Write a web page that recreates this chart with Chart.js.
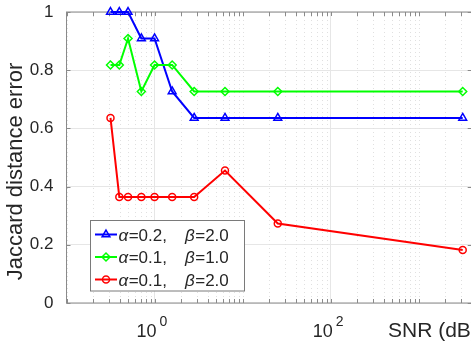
<!DOCTYPE html>
<html lang="en">
<head>
<meta charset="UTF-8">
<title>Jaccard distance error vs SNR</title>
<script src="https://cdn.jsdelivr.net/npm/chart.js"></script>
<style>
  html, body { margin: 0; padding: 0; background: #fff; overflow: hidden; }
  #wrap { width: 480px; height: 341px; }
</style>
</head>
<body>
<div id="wrap"><canvas id="chart" width="480" height="341"></canvas></div>
<script>
// SNR values (x, log axis)
const snr = [0.316, 0.398, 0.5, 0.708, 1, 1.585, 2.818, 6.31, 25.1, 3162];

// Jaccard distance error for each parameter pair
const errA02B20 = [1, 1, 1, 0.909, 0.909, 0.727, 0.636, 0.636, 0.636, 0.636];
const errA01B10 = [0.818, 0.818, 0.909, 0.727, 0.818, 0.818, 0.727, 0.727, 0.727, 0.727];
const errA01B20 = [0.636, 0.364, 0.364, 0.364, 0.364, 0.364, 0.364, 0.455, 0.273, 0.182];

const alphas = ["0.2", "0.1", "0.1"];
const betas = ["2.0", "1.0", "2.0"];

const yTicks = [0, 0.2, 0.4, 0.6, 0.8, 1];
const xMajorTicks = [1, 100];      // labelled decades: 10^0, 10^2
const xMin = 0.1, xMax = 4000;

const FONT = '"Liberation Sans", Arial, Helvetica, sans-serif';
const TXT = "#262626";

function pts(ys) {
    return snr.map((x, i) => ({ x: x, y: ys[i] }));
}

function series(ys, i, color, style, radius) {
    return {
        label: `α=${alphas[i]},   β=${betas[i]}`,
        data: pts(ys),
        borderColor: color,
        borderWidth: 2,
        pointStyle: style,
        pointRadius: radius,
        pointBorderWidth: 1.5,
        pointBackgroundColor: "rgba(0,0,0,0)",
        pointBorderColor: color,
        fill: false,
        tension: 0,
        clip: false,
        order: 3 - i
    };
}

// MATLAB-like box, minor grid, inward ticks, legend and labels
const matlabLook = {
    id: "matlabLook",
    beforeDatasetsDraw(chart) {
        const { ctx, chartArea: a, scales: { x, y } } = chart;
        ctx.save();
        // minor grid (dotted) on every 1..9 x 10^n
        ctx.strokeStyle = "#e0e0e0";
        ctx.lineWidth = 1;
        ctx.setLineDash([1, 3]);
        const minor = [];
        for (let n = -1; n <= 3; n++) {
            for (let k = 1; k <= 9; k++) {
                const v = k * Math.pow(10, n);
                if (v >= xMin && v <= xMax) minor.push(v);
            }
        }
        minor.forEach(v => {
            if (xMajorTicks.includes(v)) return;
            const px = Math.round(x.getPixelForValue(v)) + 0.5;
            ctx.beginPath();
            ctx.moveTo(px, a.top);
            ctx.lineTo(px, a.bottom);
            ctx.stroke();
        });
        ctx.setLineDash([]);

        // box
        ctx.strokeStyle = "#8a8a8a";
        ctx.lineWidth = 1;
        ctx.strokeRect(a.left, a.top, a.right - a.left, a.bottom - a.top);

        // inward ticks
        const tl = 4;
        ctx.beginPath();
        minor.forEach(v => {
            const px = Math.round(x.getPixelForValue(v)) + 0.5;
            ctx.moveTo(px, a.bottom); ctx.lineTo(px, a.bottom - tl);
            ctx.moveTo(px, a.top); ctx.lineTo(px, a.top + tl);
        });
        yTicks.forEach(v => {
            const py = Math.round(y.getPixelForValue(v)) + 0.5;
            ctx.moveTo(a.left, py); ctx.lineTo(a.left + tl, py);
            ctx.moveTo(a.right, py); ctx.lineTo(a.right - tl, py);
        });
        ctx.stroke();
        ctx.restore();
    },
    afterDraw(chart) {
        const { ctx, scales: { x } } = chart;
        ctx.save();
        ctx.fillStyle = TXT;
        ctx.textBaseline = "alphabetic";

        // x tick labels 10^n
        xMajorTicks.forEach(v => {
            const px = x.getPixelForValue(v);
            ctx.font = `18px ${FONT}`;
            ctx.textAlign = "left";
            ctx.fillText("10", px - 18, 336.5);
            ctx.font = `14px ${FONT}`;
            ctx.fillText(String(Math.round(Math.log10(v))), px + 5, 325.5);
        });

        // x axis title
        ctx.font = `21px ${FONT}`;
        ctx.fillText("SNR (dB)", 388, 337);

        // y axis title
        ctx.save();
        ctx.translate(22, 171.5);
        ctx.rotate(-Math.PI / 2);
        ctx.textAlign = "center";
        ctx.font = `22px ${FONT}`;
        ctx.fillText("Jaccard distance error", 0, 0);
        ctx.restore();

        // legend
        const bx = 90.5, by = 220.5, bw = 154, bh = 70.5;
        ctx.fillStyle = "#fff";
        ctx.fillRect(bx, by, bw, bh);
        ctx.strokeStyle = "#7a7a7a";
        ctx.lineWidth = 1;
        ctx.strokeRect(bx, by, bw, bh);
        const rows = [234.5, 257, 279.5];
        chart.data.datasets.forEach((ds, i) => {
            const ry = rows[i];
            ctx.strokeStyle = ds.borderColor;
            ctx.lineWidth = 2;
            ctx.beginPath();
            ctx.moveTo(95, ry);
            ctx.lineTo(117, ry);
            ctx.stroke();
            ctx.lineWidth = ds.pointBorderWidth;
            ctx.fillStyle = "rgba(0,0,0,0)";
            if (Chart.helpers && Chart.helpers.drawPoint) {
                Chart.helpers.drawPoint(ctx, {
                    pointStyle: ds.pointStyle, radius: ds.pointRadius,
                    borderWidth: ds.pointBorderWidth, rotation: 0
                }, 106, ry);
            }
            ctx.fillStyle = TXT;
            ctx.textAlign = "left";
            const base = ry + 6;
            ctx.font = `italic 17px ${FONT}`;
            ctx.fillText("α", 118.5, base);
            let w = ctx.measureText("α").width;
            ctx.font = `17px ${FONT}`;
            ctx.fillText(`=${alphas[i]},`, 118.5 + w + 0.5, base);
            ctx.font = `italic 17px ${FONT}`;
            ctx.fillText("β", 185, base);
            w = ctx.measureText("β").width;
            ctx.font = `17px ${FONT}`;
            ctx.fillText(`=${betas[i]}`, 185 + w + 0.5, base);
        });
        ctx.restore();
    }
};

new Chart(document.getElementById("chart").getContext("2d"), {
    type: "line",
    data: {
        datasets: [
            series(errA02B20, 0, "#0000ff", "triangle", 4.5),
            series(errA01B10, 1, "#00ff00", "rectRot", 4),
            series(errA01B20, 2, "#ff0000", "circle", 3.5)
        ]
    },
    options: {
        responsive: false,
        animation: false,
        devicePixelRatio: 1,
        layout: { padding: { left: 0, top: 12, right: 8.3, bottom: 0 } },
        plugins: { legend: { display: false }, tooltip: { enabled: false } },
        scales: {
            x: {
                type: "logarithmic",
                min: xMin,
                max: xMax,
                afterBuildTicks: s => { s.ticks = xMajorTicks.map(v => ({ value: v })); },
                afterFit: s => { s.height = 38; s.paddingLeft = 0; s.paddingRight = 0; },
                ticks: { display: false },
                grid: { color: "#e6e6e6", lineWidth: 1, drawTicks: false },
                border: { display: false }
            },
            y: {
                min: 0,
                max: 1,
                afterBuildTicks: s => { s.ticks = yTicks.map(v => ({ value: v })); },
                afterFit: s => { s.width = 66.5; s.paddingTop = 0; s.paddingBottom = 0; },
                ticks: {
                    color: TXT,
                    padding: 13,
                    font: { family: FONT, size: 17 },
                    callback: v => String(Math.round(v * 10) / 10)
                },
                grid: { color: "#e6e6e6", lineWidth: 1, drawTicks: false },
                border: { display: false }
            }
        }
    },
    plugins: [matlabLook]
});
</script>
</body>
</html>
